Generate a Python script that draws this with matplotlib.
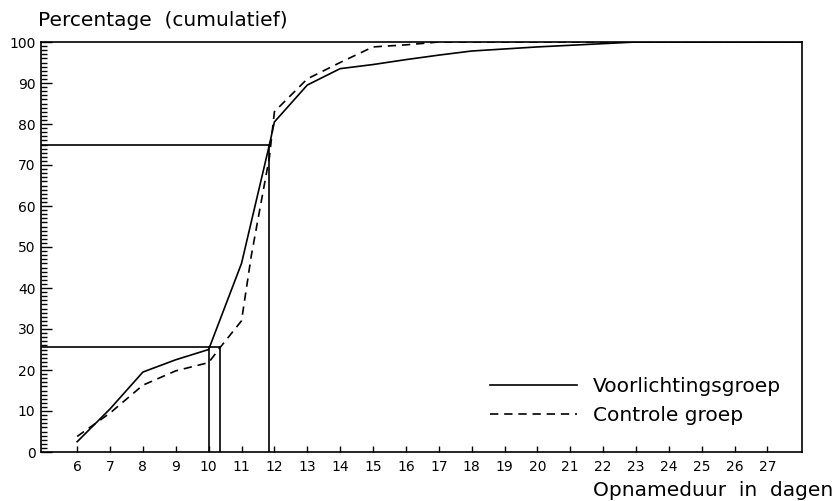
import numpy as np
import matplotlib
matplotlib.use("Agg")
import matplotlib.pyplot as plt
from matplotlib.ticker import MultipleLocator

# cumulative percentage per length of stay (days)
days_voorl = [6, 7, 8, 9, 10, 11, 11.85, 12, 13, 14, 15, 16, 17, 18, 19, 20, 21, 22, 23, 28]
pct_voorl = [2.5, 10.5, 19.5, 22.5, 25, 46, 75, 80.5, 89.5, 93.5, 94.5, 95.7, 96.8, 97.8, 98.3, 98.8, 99.2, 99.6, 100, 100]

days_contr = [6, 7, 8, 9, 10, 10.35, 11, 11.3, 11.85, 12, 13, 14, 15, 16, 17, 28]
pct_contr = [3.8, 9.5, 16.3, 19.8, 21.8, 25.5, 32, 48, 72, 83, 91, 95, 98.8, 99.3, 100, 100]

# quartile markers (25% and 75%)
q1_level = 25.5
q1_days = [10.0, 10.35]
q3_level = 75
q3_day = 11.85

x_ticks = list(range(6, 28))
y_ticks = list(range(0, 101, 10))

fig = plt.figure(figsize=(8.34, 5.01), dpi=100)
ax = fig.add_axes([41/834, 1 - 452/501, 761/834, 410/501])

lw = 1.2
ax.plot(days_voorl, pct_voorl, color="black", lw=lw, label="Voorlichtingsgroep")
ax.plot(days_contr, pct_contr, color="black", lw=lw, ls=(0, (5, 3.5)), label="Controle groep")

xmin, xmax = 4.9, 28.05
ax.plot([xmin, max(q1_days)], [q1_level, q1_level], color="black", lw=lw)
for d in q1_days:
    ax.plot([d, d], [0, q1_level], color="black", lw=lw)
ax.plot([xmin, q3_day], [q3_level, q3_level], color="black", lw=lw)
ax.plot([q3_day, q3_day], [0, q3_level], color="black", lw=lw)

ax.set_xlim(xmin, xmax)
ax.set_ylim(0, 100)
ax.set_xticks(x_ticks)
ax.set_yticks(y_ticks)
ax.yaxis.set_minor_locator(MultipleLocator(1))
ax.tick_params(axis="x", direction="in", length=4, width=1, labelsize=10, pad=6)
ax.tick_params(axis="y", which="major", direction="in", length=8, width=1, labelsize=10, pad=4)
ax.tick_params(axis="y", which="minor", direction="in", length=4.5, width=1)
for s in ax.spines.values():
    s.set_linewidth(1.2)

fig.text(38/834, 1 - 20/501, "Percentage  (cumulatief)", fontsize=14.5, ha="left", va="center")
fig.text(833/834, 1 - 490/501, "Opnameduur  in  dagen", fontsize=14.5, ha="right", va="center")

ax.legend(loc="center left", bbox_to_anchor=(0.59, 0.124), frameon=False, fontsize=14.5,
          handlelength=4.3, handletextpad=0.8, labelspacing=0.48, borderpad=0, borderaxespad=0)

fig.savefig("out.png", dpi=100)
